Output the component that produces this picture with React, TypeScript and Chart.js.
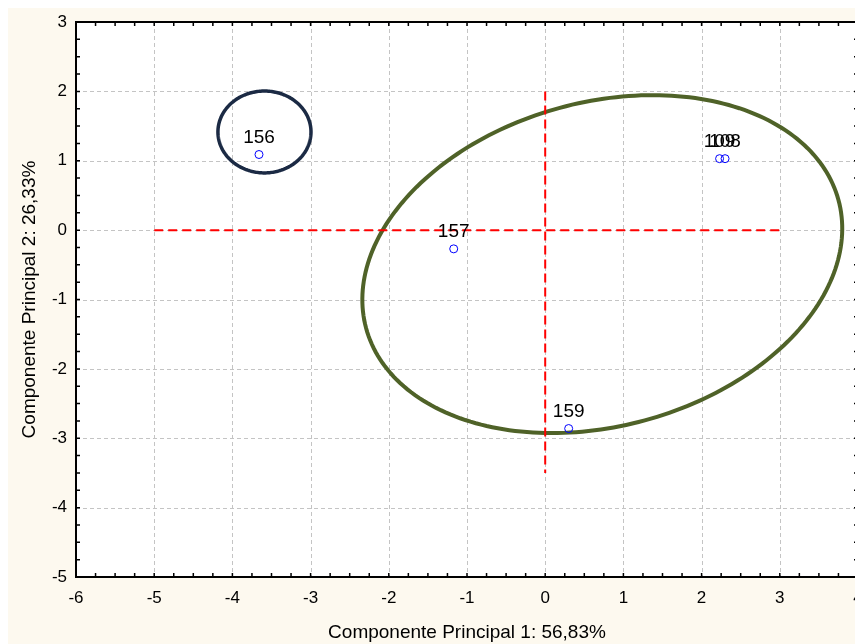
import React, { useEffect, useRef } from "react";
import { Chart, registerables } from "chart.js";

Chart.register(...registerables);

// Case labels and principal component scores
const caseLabels = ["156", "157", "159", "109", "108"];
const pc1Scores = [-3.66, -1.17, 0.3, 2.23, 2.3];
const pc2Scores = [1.09, -0.27, -2.86, 1.03, 1.03];

// Axis ranges / titles
const xRange = [-6, 4];
const yRange = [-5, 3];
const xTitle = "Componente Principal 1: 56,83%";
const yTitle = "Componente Principal 2: 26,33%";

// Red dashed reference lines (data coordinates)
const hLineX = [-5, 3];
const hLineY = [0, 0];
const vLineX = [0, 0];
const vLineY = [2, -3.5];

// Group ellipses: centre + two conjugate semi-diameters, in data units
const ellipseSmall = { cx: -3.59, cy: 1.415, ux: 0.595, uy: 0, vx: 0, vy: 0.59 };
const ellipseLarge = { cx: 0.73, cy: -0.49, ux: 3.02, uy: 0.925, vx: 0.543, vy: -2.253 };

const FONT = "'Liberation Sans', Arial, sans-serif";

export default function App() {
  const ref = useRef<HTMLCanvasElement | null>(null);

  useEffect(() => {
    const canvas = ref.current;
    if (!canvas) return;

    const drawEllipse = (chart: any, e: any, color: string, width: number) => {
      const { ctx, scales, chartArea } = chart;
      const xs = scales.x, ys = scales.y;
      ctx.save();
      ctx.beginPath();
      ctx.rect(chartArea.left, chartArea.top, chartArea.right - chartArea.left, chartArea.bottom - chartArea.top);
      ctx.clip();
      ctx.beginPath();
      const N = 240;
      for (let i = 0; i <= N; i++) {
        const t = (i / N) * Math.PI * 2;
        const dx = e.cx + e.ux * Math.cos(t) + e.vx * Math.sin(t);
        const dy = e.cy + e.uy * Math.cos(t) + e.vy * Math.sin(t);
        const px = xs.getPixelForValue(dx);
        const py = ys.getPixelForValue(dy);
        if (i === 0) ctx.moveTo(px, py);
        else ctx.lineTo(px, py);
      }
      ctx.closePath();
      ctx.strokeStyle = color;
      ctx.lineWidth = width;
      ctx.stroke();
      ctx.restore();
    };

    const decor = {
      id: "decor",
      beforeDraw(chart: any) {
        const { ctx, chartArea, width, height } = chart;
        ctx.save();
        ctx.fillStyle = "#fdf9ef";
        ctx.fillRect(0, 0, width, height);
        ctx.fillStyle = "#ffffff";
        ctx.fillRect(chartArea.left, chartArea.top, chartArea.right - chartArea.left, chartArea.bottom - chartArea.top);
        ctx.restore();
      },
      beforeDatasetsDraw(chart: any) {
        const { ctx, chartArea, scales } = chart;
        const xs = scales.x, ys = scales.y;
        ctx.save();
        ctx.strokeStyle = "#c4c4c4";
        ctx.lineWidth = 1;
        ctx.setLineDash([4, 3]);
        xs.ticks.forEach((t: any) => {
          const px = Math.round(xs.getPixelForValue(t.value)) + 0.5;
          ctx.beginPath();
          ctx.moveTo(px, chartArea.top);
          ctx.lineTo(px, chartArea.bottom);
          ctx.stroke();
        });
        ys.ticks.forEach((t: any) => {
          const py = Math.round(ys.getPixelForValue(t.value)) + 0.5;
          ctx.beginPath();
          ctx.moveTo(chartArea.left, py);
          ctx.lineTo(chartArea.right, py);
          ctx.stroke();
        });
        ctx.restore();
        drawEllipse(chart, ellipseLarge, "#4f6228", 4);
        drawEllipse(chart, ellipseSmall, "#1b2a44", 3.5);
      },
      afterDatasetsDraw(chart: any) {
        const { ctx, chartArea, scales } = chart;
        const xs = scales.x, ys = scales.y;
        // point labels
        ctx.save();
        ctx.fillStyle = "#000000";
        ctx.font = `19px ${FONT}`;
        ctx.textAlign = "center";
        ctx.textBaseline = "alphabetic";
        const meta = chart.getDatasetMeta(2);
        meta.data.forEach((el: any, i: number) => {
          ctx.fillText(caseLabels[i], el.x, el.y - 12);
        });
        ctx.restore();
        // frame
        ctx.save();
        ctx.strokeStyle = "#000000";
        ctx.lineWidth = 2;
        ctx.strokeRect(chartArea.left, chartArea.top, chartArea.right - chartArea.left, chartArea.bottom - chartArea.top);
        // minor ticks, inward
        ctx.lineWidth = 1.5;
        const L = 4;
        for (let v = xRange[0]; v <= xRange[1] + 1e-9; v += 0.25) {
          const px = xs.getPixelForValue(v);
          ctx.beginPath();
          ctx.moveTo(px, chartArea.bottom);
          ctx.lineTo(px, chartArea.bottom - L);
          ctx.moveTo(px, chartArea.top);
          ctx.lineTo(px, chartArea.top + L);
          ctx.stroke();
        }
        for (let v = yRange[0]; v <= yRange[1] + 1e-9; v += 0.25) {
          const py = ys.getPixelForValue(v);
          ctx.beginPath();
          ctx.moveTo(chartArea.left, py);
          ctx.lineTo(chartArea.left + L, py);
          ctx.moveTo(chartArea.right, py);
          ctx.lineTo(chartArea.right - L, py);
          ctx.stroke();
        }
        ctx.restore();
      },
    };

    const points = pc1Scores.map((x, i) => ({ x, y: pc2Scores[i] }));

    const chart = new Chart(canvas, {
      type: "scatter",
      data: {
        datasets: [
          {
            label: "h",
            data: hLineX.map((x, i) => ({ x, y: hLineY[i] })),
            showLine: true,
            borderColor: "#ff0000",
            borderWidth: 2,
            borderDash: [9, 5],
            pointRadius: 0,
            fill: false,
          } as any,
          {
            label: "v",
            data: vLineX.map((x, i) => ({ x, y: vLineY[i] })),
            showLine: true,
            borderColor: "#ff0000",
            borderWidth: 2,
            borderDash: [9, 5],
            pointRadius: 0,
            fill: false,
          } as any,
          {
            label: "cases",
            data: points,
            pointStyle: "circle",
            pointRadius: 4,
            pointBorderColor: "#0000ff",
            pointBackgroundColor: "rgba(0,0,0,0)",
            pointBorderWidth: 1,
            borderColor: "#0000ff",
            backgroundColor: "rgba(0,0,0,0)",
          } as any,
        ],
      },
      options: {
        responsive: false,
        animation: false,
        devicePixelRatio: 1,
        layout: { padding: { top: 14, right: 20, left: 0, bottom: 0 } },
        plugins: {
          legend: { display: false },
          tooltip: { enabled: false },
        },
        scales: {
          x: {
            type: "linear",
            min: xRange[0],
            max: xRange[1],
            afterFit: (s: any) => {
              s.height = 67;
              s.paddingLeft = 0;
              s.paddingRight = 0;
            },
            ticks: {
              stepSize: 1,
              color: "#000000",
              font: { family: FONT, size: 17 },
              padding: 11,
            },
            grid: { display: false, drawTicks: false },
            border: { display: false },
            title: {
              display: true,
              text: xTitle,
              color: "#000000",
              font: { family: FONT, size: 19 },
              padding: { top: 0, bottom: 0 },
            },
          },
          y: {
            type: "linear",
            min: yRange[0],
            max: yRange[1],
            afterFit: (s: any) => {
              s.width = 68;
              s.paddingTop = 0;
              s.paddingBottom = 0;
            },
            ticks: {
              stepSize: 1,
              color: "#000000",
              font: { family: FONT, size: 17 },
              padding: 9,
            },
            grid: { display: false, drawTicks: false },
            border: { display: false },
            title: {
              display: true,
              text: yTitle,
              color: "#000000",
              font: { family: FONT, size: 19 },
              padding: { top: 10, bottom: 0 },
            },
          },
        },
      } as any,
      plugins: [decor],
    });

    return () => chart.destroy();
  }, []);

  return (
    <div
      style={{
        position: "fixed",
        left: 8,
        top: 8,
        width: 847,
        height: 636,
        overflow: "hidden",
        background: "#fdf9ef",
      }}
    >
      <canvas ref={ref} width={870} height={636} style={{ display: "block" }} />
    </div>
  );
}
